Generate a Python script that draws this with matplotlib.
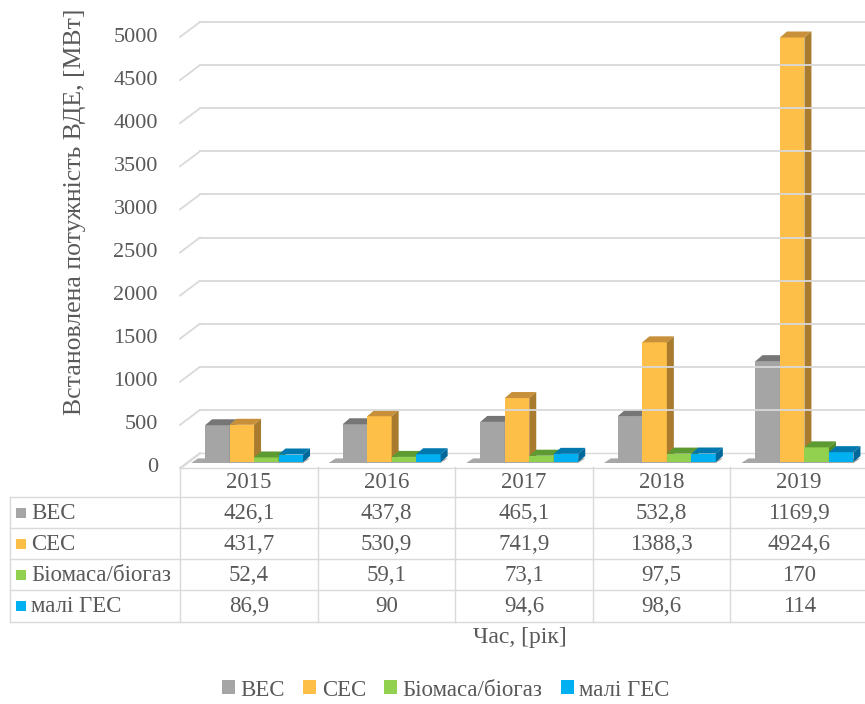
import matplotlib
matplotlib.use("Agg")
import matplotlib.pyplot as plt
from matplotlib.patches import Polygon, Rectangle, Patch

plt.rcParams['font.family'] = ['Liberation Serif', 'DejaVu Serif']

# ---- data ----
years = ['2015', '2016', '2017', '2018', '2019']
series = ['ВЕС', 'СЕС', 'Біомаса/біогаз', 'малі ГЕС']
ves = [426.1, 437.8, 465.1, 532.8, 1169.9]
ses = [431.7, 530.9, 741.9, 1388.3, 4924.6]
bio = [52.4, 59.1, 73.1, 97.5, 170]
hes = [86.9, 90, 94.6, 98.6, 114]
values = [ves, ses, bio, hes]

front_col = ['#A5A5A5', '#FDBF47', '#92D050', '#00B0F0']
top_col = ['#767676', '#C8903A', '#5E9A32', '#0078AE']
side_col = ['#8A8A8A', '#A97B2E', '#4E8A28', '#00689A']
TXT = '#595959'
GRID = '#D9D9D9'

W, H = 865, 704
fig = plt.figure(figsize=(W / 100, H / 100), dpi=100)

# pseudo-3D geometry (pixels)
CAT_PX = 137.6
X0_PX, Y0_PX = 188, 462        # bar plane origin
Y_PX = 431 / 5000              # pixels per MW
def px2x(p):
    return p / CAT_PX
def px2y(p):
    return p / Y_PX

fdx, fdy = px2x(-8), px2y(-6)    # front plane
bdx, bdy = px2x(12), px2y(9)     # back wall
ddx, ddy = px2x(7), px2y(6)      # bar depth

ax = fig.add_axes([X0_PX / W, (H - Y0_PX) / H, 5 * CAT_PX / W, 5000 * Y_PX / H])
ax.set_xlim(0, 5)
ax.set_ylim(0, 5000)
ax.axis('off')

xr = 5.5
# floor
ax.add_patch(Polygon([(fdx, fdy), (xr, fdy), (xr, bdy), (bdx, bdy)],
                     closed=True, facecolor='white', edgecolor=GRID, lw=1, clip_on=False))
# gridlines on back + left wall
for v in range(0, 5001, 500):
    if v > 0:
        ax.plot([bdx, xr], [v + bdy, v + bdy], color=GRID, lw=1.3, clip_on=False)
    ax.plot([fdx, bdx], [v + fdy, v + bdy], color=GRID, lw=1.3, clip_on=False)
    ax.text(fdx - px2x(22), v + fdy, str(v), ha='right', va='center',
            fontsize=16, color=TXT)

bw = 0.178
off = 0.124
for i in range(len(years)):
    # floor shadow
    sx0 = i + off - px2x(14)
    sx1 = i + off + 4 * bw
    ax.add_patch(Polygon([(sx0, px2y(-1)), (sx1, px2y(-1)), (sx1 + ddx, ddy * 0.6), (sx0 + ddx, ddy * 0.6)],
                         closed=True, facecolor='#606060', edgecolor='none', alpha=0.55, clip_on=False))
    for j in range(len(series)):
        h = values[j][i]
        x0 = i + off + j * bw
        ax.add_patch(Rectangle((x0, 0), bw, h, facecolor=front_col[j], edgecolor='none', clip_on=False))
        ax.add_patch(Polygon([(x0, h), (x0 + bw, h), (x0 + bw + ddx, h + ddy), (x0 + ddx, h + ddy)],
                             closed=True, facecolor=top_col[j], edgecolor='none', clip_on=False))
        ax.add_patch(Polygon([(x0 + bw, 0), (x0 + bw + ddx, ddy), (x0 + bw + ddx, h + ddy), (x0 + bw, h)],
                             closed=True, facecolor=side_col[j], edgecolor='none', clip_on=False))

# ---- data table (pixel coordinates) ----
tb = fig.add_axes([0, 0, 1, 1])
tb.set_xlim(0, W)
tb.set_ylim(H, 0)
tb.axis('off')
tb.patch.set_visible(False)

tx0 = 180
row_y = [467, 497, 528, 559, 590, 622]
left_x = 10
for k, y in enumerate(row_y[1:]):
    tb.plot([left_x, W + 10], [y, y], color=GRID, lw=1)
tb.plot([left_x, left_x], [row_y[1], row_y[-1]], color=GRID, lw=1)
for k in range(6):
    x = tx0 + k * CAT_PX
    tb.plot([x, x], [row_y[0], row_y[-1]], color=GRID, lw=1)

FS = 16.5
for k, yr in enumerate(years):
    cx = tx0 + (k + 0.5) * CAT_PX
    tb.text(cx, (row_y[0] + row_y[1]) / 2 + 1, yr, ha='center', va='center', fontsize=FS, color=TXT)
    for j in range(len(series)):
        cy = (row_y[j + 1] + row_y[j + 2]) / 2 + 1
        s = f"{values[j][k]:g}".replace('.', ',')
        tb.text(cx, cy, s, ha='center', va='center', fontsize=FS, color=TXT)

for j, name in enumerate(series):
    cy = (row_y[j + 1] + row_y[j + 2]) / 2
    tb.add_patch(Rectangle((16, cy - 5), 10, 10, facecolor=front_col[j], edgecolor='none'))
    tb.text(31, cy + 1, name, ha='left', va='center', fontsize=FS, color=TXT)

# axis titles
tb.text(75, 212, 'Встановлена потужність ВДЕ, [МВт]', rotation=90, ha='center', va='center',
        fontsize=18.5, color=TXT)
tb.text(520, 637, 'Час, [рік]', ha='center', va='center', fontsize=17, color=TXT)

handles = [Patch(facecolor=c, edgecolor='none') for c in front_col]
fig.legend(handles, series, loc='center', bbox_to_anchor=(446 / W, 1 - 690 / H), ncol=4,
           frameon=False, handlelength=0.55, handleheight=0.55, handletextpad=0.25,
           columnspacing=0.8, labelcolor=TXT, prop={'size': FS})

fig.savefig('out.png', dpi=100)
